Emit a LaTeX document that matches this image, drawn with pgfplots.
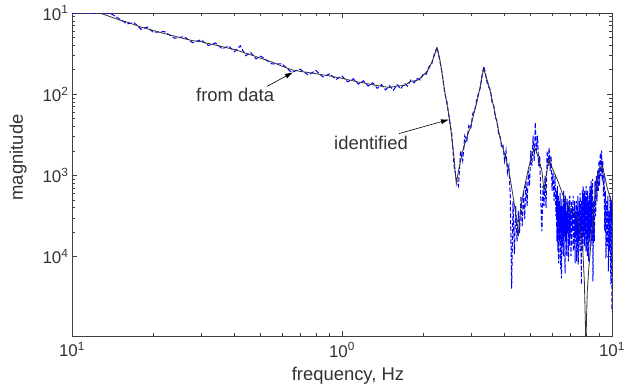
\documentclass[border=0pt]{standalone}
\usepackage{fontspec}
\setmainfont{Liberation Sans}
\usepackage{pgfplots}
\pgfplotsset{compat=1.18}
\usetikzlibrary{arrows.meta}

% measured frequency response
\pgfplotstableread{
f m
0.10 0.0990
0.11 0.1010
0.12 0.0995
0.13 0.1008
0.14 0.0975
0.15 0.0843
0.16 0.0735
0.17 0.0760
0.18 0.0630
0.19 0.0672
0.20 0.0578
0.22 0.0590
0.24 0.0488
0.26 0.0512
0.28 0.0430
0.30 0.0468
0.32 0.0398
0.34 0.0428
0.36 0.0362
0.38 0.0392
0.40 0.0334
0.42 0.0395
0.44 0.0298
0.46 0.0325
0.48 0.0272
0.50 0.0294
0.55 0.0236
0.60 0.0236
0.65 0.0186
0.70 0.0203
0.75 0.0172
0.80 0.0196
0.85 0.0163
0.90 0.0178
0.95 0.0152
1.00 0.0167
1.05 0.0142
1.10 0.0155
1.15 0.0133
1.20 0.0146
1.25 0.0126
1.30 0.0138
1.35 0.0118
1.40 0.0131
1.45 0.0113
1.50 0.0127
1.55 0.0112
1.60 0.0131
1.65 0.0116
1.70 0.0136
1.75 0.0126
1.80 0.0150
1.85 0.0138
1.90 0.0156
1.95 0.0150
2.00 0.0178
2.05 0.0176
2.10 0.0218
2.15 0.0236
2.20 0.0318
2.25 0.0379
2.30 0.0262
2.35 0.0181
2.40 0.0105
2.45 0.00790
2.50 0.00473
2.55 0.00326
2.60 0.00131
2.65 0.000905
2.70 0.000741
2.75 0.00201
2.80 0.00151
2.85 0.00308
2.90 0.00267
2.95 0.00410
3.00 0.00376
3.05 0.00577
3.10 0.00629
3.15 0.00837
3.20 0.0102
3.25 0.0118
3.30 0.0171
3.35 0.0221
3.40 0.0181
3.45 0.0136
3.50 0.0121
3.55 0.0111
3.60 0.00768
3.65 0.00725
3.70 0.00515
3.75 0.00473
3.80 0.00326
3.85 0.00308
3.90 0.00219
3.95 0.00232
4.00 1.51e-3
4.05 2.01e-3
4.10 1.07e-3
4.15 1.31e-3
4.20 5.57e-4
4.25 4.04e-5
4.30 4.83e-4
4.35 1.07e-4
4.40 4.19e-4
4.45 1.54e-4
4.50 3.63e-4
4.55 1.94e-4
4.60 5.57e-4
4.65 2.37e-4
4.70 6.43e-4
4.75 2.89e-4
4.80 8.55e-4
4.85 4.19e-4
4.90 1.14e-3
4.95 7.41e-4
5.00 2.01e-3
5.05 1.31e-3
5.10 3.08e-3
5.15 1.51e-3
5.20 4.47e-3
5.25 2.01e-3
5.30 3.08e-3
5.35 1.31e-3
5.40 1.74e-3
5.45 4.83e-4
5.50 2.05e-4
5.55 7.41e-4
5.60 4.19e-4
5.65 9.86e-4
5.70 3.96e-4
5.75 2.01e-3
5.80 1.31e-3
5.85 2.19e-3
5.90 1.14e-3
5.95 1.74e-3
6.00 6.43e-4
6.05 1.07e-3
6.10 4.83e-4
6.15 9.86e-4
6.200 3.15e-4
6.225 6.43e-4
6.250 1.54e-4
6.275 7.41e-4
6.300 1.16e-4
6.325 5.57e-4
6.350 8.25e-5
6.375 4.83e-4
6.400 1.54e-4
6.425 6.07e-4
6.450 6.96e-5
6.475 4.19e-4
6.500 5.38e-5
6.525 5.12e-4
6.550 1.34e-4
6.575 4.19e-4
6.600 1.01e-4
6.625 6.43e-4
6.650 1.78e-4
6.675 4.83e-4
6.700 6.20e-5
6.725 5.57e-4
6.750 1.54e-4
6.775 3.63e-4
6.800 1.01e-4
6.825 5.12e-4
6.850 1.94e-4
6.875 4.19e-4
6.900 8.73e-5
6.925 4.83e-4
6.950 1.34e-4
6.975 5.57e-4
7.000 1.78e-4
7.025 3.63e-4
7.050 1.01e-4
7.075 4.83e-4
7.100 1.34e-4
7.125 4.19e-4
7.150 2.05e-4
7.175 5.57e-4
7.200 1.16e-4
7.225 3.85e-4
7.250 1.54e-4
7.275 4.83e-4
7.300 8.25e-5
7.325 3.63e-4
7.350 1.78e-4
7.375 4.83e-4
7.400 8.73e-5
7.425 4.19e-4
7.450 1.34e-4
7.475 5.57e-4
7.500 8.02e-5
7.525 3.63e-4
7.550 1.54e-4
7.575 4.83e-4
7.600 1.16e-4
7.625 6.07e-4
7.650 1.94e-4
7.675 4.19e-4
7.700 4.53e-5
7.725 4.83e-4
7.750 1.54e-4
7.775 6.43e-4
7.800 1.16e-4
7.825 7.41e-4
7.850 1.78e-4
7.875 5.57e-4
7.900 1.34e-4
7.925 6.43e-4
7.950 2.05e-4
7.975 5.57e-4
8.000 1.16e-4
8.025 7.41e-4
8.050 1.54e-4
8.075 4.83e-4
8.100 1.01e-4
8.125 6.43e-4
8.150 1.78e-4
8.175 4.83e-4
8.200 8.73e-5
8.225 5.57e-4
8.250 1.54e-4
8.275 7.41e-4
8.300 1.94e-4
8.325 6.43e-4
8.350 1.34e-4
8.375 8.55e-4
8.400 2.37e-4
8.425 7.41e-4
8.450 1.54e-4
8.475 9.05e-4
8.500 4.94e-5
8.55 4.83e-4
8.60 1.54e-4
8.65 8.55e-4
8.70 3.15e-4
8.75 9.86e-4
8.80 4.83e-4
8.85 1.14e-3
8.90 6.43e-4
8.95 1.51e-3
9.00 7.41e-4
9.05 1.90e-3
9.10 9.86e-4
9.15 2.01e-3
9.20 8.55e-4
9.25 1.51e-3
9.30 5.57e-4
9.35 9.86e-4
9.40 2.05e-4
9.45 6.43e-4
9.50 9.51e-5
9.55 4.83e-4
9.60 1.34e-4
9.65 5.57e-4
9.70 6.57e-5
9.75 3.63e-4
9.80 1.16e-4
9.85 5.57e-4
9.90 4.53e-5
9.95 4.83e-4
10.0 2.10e-5
}\measured

% response of the identified model
\pgfplotstableread{
f m
0.10 0.129
0.13 0.0972
0.15 0.0819
0.16 0.0774
0.18 0.0671
0.20 0.0609
0.22 0.0557
0.24 0.0519
0.26 0.0483
0.28 0.0456
0.30 0.0444
0.32 0.0421
0.34 0.0403
0.36 0.0385
0.38 0.0369
0.40 0.0354
0.42 0.0337
0.44 0.0320
0.46 0.0305
0.48 0.0291
0.50 0.0277
0.55 0.0249
0.60 0.0221
0.65 0.0200
0.70 0.0191
0.75 0.0185
0.80 0.0179
0.85 0.0173
0.90 0.0168
0.95 0.0162
1.00 0.0157
1.05 0.0151
1.10 0.0146
1.15 0.0141
1.20 0.0138
1.25 0.0134
1.30 0.0130
1.35 0.0128
1.40 0.0125
1.45 0.0123
1.50 0.0121
1.60 0.0126
1.70 0.0128
1.80 0.0144
1.90 0.0148
1.95 0.0159
2.00 0.0171
2.05 0.0186
2.10 0.0208
2.15 0.0247
2.20 0.0302
2.25 0.0369
2.30 0.0277
2.35 0.0176
2.40 0.0111
2.45 0.00725
2.50 0.00515
2.55 0.00291
2.60 0.00165
2.65 7.85e-4
2.70 1.14e-3
2.75 1.51e-3
2.80 2.01e-3
2.85 2.45e-3
2.90 2.91e-3
2.95 3.46e-3
3.00 4.10e-3
3.05 5.01e-3
3.10 6.29e-3
3.15 7.68e-3
3.20 9.65e-3
3.25 0.0125
3.30 0.0161
3.35 0.0208
3.40 0.0171
3.45 0.0148
3.50 0.0128
3.55 0.0105
3.60 8.37e-3
3.65 6.86e-3
3.70 5.45e-3
3.75 4.47e-3
3.80 3.56e-3
3.85 2.91e-3
3.90 2.45e-3
3.95 2.13e-3
4.00 1.85e-3
4.15 1.14e-3
4.30 5.57e-4
4.45 2.58e-4
4.50 1.78e-4
4.60 4.19e-4
4.75 7.41e-4
4.90 1.20e-3
5.10 2.01e-3
5.20 2.13e-3
5.35 1.60e-3
5.50 1.14e-3
5.60 6.43e-4
5.70 9.86e-4
5.85 1.60e-3
6.00 1.24e-3
6.30 8.55e-4
6.70 4.83e-4
7.00 3.85e-4
7.40 3.15e-4
7.60 2.18e-4
7.80 1.16e-4
7.90 4.94e-5
7.97 1.58e-5
8.00 5.0e-6
8.04 1.58e-5
8.10 3.71e-5
8.20 6.96e-5
8.40 1.78e-4
8.60 4.83e-4
8.80 9.05e-4
9.00 1.24e-3
9.20 1.31e-3
9.40 9.86e-4
9.60 7.00e-4
9.80 5.57e-4
10.0 4.56e-4
}\identified

\begin{document}
\begin{tikzpicture}
\path[use as bounding box] (-72bp,-49bp) rectangle (556bp,336bp);
\begin{axis}[
  at={(0,0)}, anchor=south west,
  width=540bp, height=323bp, scale only axis,
  xmode=log, ymode=log,
  xmin=0.1, xmax=10, ymin=1.05e-5, ymax=0.1,
  xtick={0.1,1,10},
  xticklabels={10\textsuperscript{1},10\textsuperscript{0},10\textsuperscript{1}},
  ytick={1e-4,1e-3,1e-2,1e-1},
  yticklabels={10\textsuperscript{4},10\textsuperscript{3},10\textsuperscript{2},10\textsuperscript{1}},
  tick align=inside,
  major tick length=5bp, minor tick length=3bp,
  axis line style={black!75, line width=0.8bp},
  every tick/.style={black!75, line width=0.6bp},
  tick label style={font=\fontsize{17}{20}\selectfont, text=black!80},
  xticklabel style={yshift=-3bp},
  label style={font=\fontsize{18.5}{22}\selectfont, text=black!80},
  xlabel={frequency, Hz},
  ylabel={magnitude},
  xlabel style={at={(axis description cs:0.511,0)}, anchor=north, yshift=-31bp, inner sep=0pt},
  ylabel style={at={(axis description cs:-0.1,0.553)}, anchor=center},
]
\addplot[blue, line width=1bp, dash pattern=on 4.5bp off 2bp] table[x=f, y=m] {\measured};
\addplot[black!80, line width=0.8bp] table[x=f, y=m] {\identified};

\node[anchor=base west, font=\fontsize{18.5}{22}\selectfont, text=black!80, inner sep=0pt]
  at (axis cs:0.288,0.0082) {from data};
\draw[black, line width=0.6bp, -{Latex[length=8bp,width=5bp]}]
  (axis cs:0.5275,0.01247) -- (axis cs:0.6585,0.0186);
\node[anchor=base west, font=\fontsize{18.5}{22}\selectfont, text=black!80, inner sep=0pt]
  at (axis cs:0.934,0.00207) {identified};
\draw[black, line width=0.6bp, -{Latex[length=8bp,width=5bp]}]
  (axis cs:1.626,0.00327) -- (axis cs:2.49,0.00487);
\end{axis}
\end{tikzpicture}
\end{document}
